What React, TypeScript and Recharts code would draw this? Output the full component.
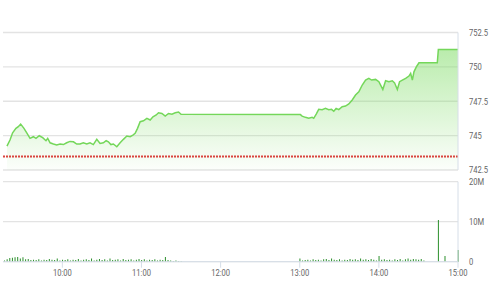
import React from "react";
import {
  ComposedChart,
  Area,
  Line,
  Bar,
  XAxis,
  YAxis,
  CartesianGrid,
  ReferenceLine,
} from "recharts";

// minutes since 09:00
const priceTimes = [
  18, 20.3, 22.3, 24.8, 26.6, 28.4, 30.9, 32.9, 35.5, 38, 40, 42.5, 45.1, 47.6, 48.9,
  50.7, 53.2, 55.7, 58.3, 60.8, 63.3, 65.8, 68.4, 70.9, 73.4, 75.9, 78.5, 81, 83.5,
  86.1, 88.6, 91.1, 93.2, 94.9, 96.8, 98.7, 101.3, 103.8, 106.3, 108.9, 111.4, 113.5,
  115.2, 117, 119, 121.5, 124.1, 126.6, 128.7, 131.2, 132.9, 135.5, 138, 140.5, 143.1,
  145.6, 148.1, 150, 240.5, 241.8, 244.3, 246.8, 249.4, 250.6, 252.5, 254.4, 257, 259.5,
  262, 264.1, 265.8, 267.6, 269.6, 272.2, 274.7, 277.2, 279.8, 282.3, 284.8, 287.4,
  289.9, 292.4, 294.5, 297.5, 300, 303, 305.1, 307.6, 310.2, 311.9, 314, 315.7, 317.8,
  320.3, 322.8, 324.1, 325.4, 326.6, 328.4, 330.4, 344.3, 345.1, 360,
];
const priceValues = [
  744.24, 744.68, 745.21, 745.53, 745.65, 745.84, 745.53, 745.21, 744.8, 744.92, 744.8,
  744.99, 744.85, 744.63, 744.8, 744.48, 744.39, 744.32, 744.39, 744.35, 744.48, 744.58,
  744.55, 744.39, 744.39, 744.48, 744.39, 744.48, 744.35, 744.73, 744.43, 744.48, 744.63,
  744.55, 744.35, 744.39, 744.19, 744.48, 744.73, 744.97, 744.92, 745.04, 745.17, 745.53,
  746.01, 746.08, 746.26, 746.14, 746.37, 746.5, 746.66, 746.61, 746.42, 746.61, 746.56,
  746.66, 746.72, 746.55, 746.53, 746.42, 746.33, 746.26, 746.33, 746.26, 746.57, 746.91,
  746.89, 746.98, 746.89, 746.91, 746.77, 746.98, 746.89, 747.1, 747.15, 747.3, 747.59,
  747.95, 748.19, 748.68, 749.04, 749.16, 749.04, 749.09, 748.92, 748.36, 748.99, 748.92,
  748.99, 748.84, 748.36, 748.92, 749.04, 749.16, 749.33, 749.53, 749.04, 749.64, 750.0,
  750.3, 750.3, 751.27, 751.27,
];
const referencePrice = 743.48;

const volumeTimes = [
  16, 18, 20, 22, 24, 26, 28, 30, 32, 34, 36, 38, 40, 42, 44, 46, 48, 50, 52, 54, 56, 58,
  60, 62, 64, 66, 68, 70, 72, 74, 76, 78, 80, 82, 84, 86, 88, 90, 92, 94, 96, 98, 100,
  102, 104, 106, 108, 110, 112, 114, 116, 118, 120, 122, 124, 126, 128, 130, 132, 134,
  136, 138, 140, 142, 144, 146, 148, 150,
  240, 242, 244, 246, 248, 250, 252, 254, 256, 258, 260, 262, 264, 266, 268, 270, 272,
  274, 276, 278, 280, 282, 284, 286, 288, 290, 292, 294, 296, 298, 300, 302, 304, 306,
  308, 310, 312, 314, 316, 318, 320, 322, 324, 326, 328, 330, 332, 334, 345, 350, 360,
];
// millions of shares
const volumeValues = [
  0.3, 0.6, 0.9, 1.0, 1.1, 1.2, 0.8, 1.1, 0.6, 0.7, 0.4, 0.5, 0.4, 0.6, 0.3, 0.5, 0.4,
  0.7, 0.5, 0.4, 0.8, 0.3, 0.5, 0.4, 0.6, 0.3, 0.5, 0.4, 0.7, 0.3, 0.5, 0.6, 0.4, 0.8,
  0.3, 0.5, 0.7, 0.4, 0.6, 0.3, 0.8, 0.4, 0.5, 0.6, 0.3, 0.7, 0.4, 0.5, 0.6, 0.3, 0.5,
  0.7, 0.4, 0.6, 0.3, 0.5, 0.4, 0.6, 0.3, 0.5, 0.4, 1.2, 0.4, 0.3, 0.2, 0.3, 0.2, 0.1,
  0.8, 0.3, 0.4, 0.5, 0.3, 0.6, 0.4, 0.5, 0.3, 0.6, 0.7, 0.4, 0.8, 0.5, 0.4, 0.6, 0.3,
  0.5, 0.4, 0.7, 0.5, 0.6, 0.4, 0.8, 0.5, 0.6, 0.4, 0.7, 0.5, 0.3, 1.4, 0.5, 0.6, 0.4,
  0.5, 0.3, 0.6, 0.4, 0.7, 0.3, 0.6, 0.8, 0.5, 0.7, 0.6, 0.5, 0.7, 0.3, 10.4, 1.4, 2.9,
];

const priceTicks = [742.5, 745, 747.5, 750, 752.5];
const volumeTicks = [0, 10, 20];
const timeTicks = [60, 120, 180, 240, 300, 360];

const priceData = priceTimes.map((t, i) => ({ t, price: priceValues[i] }));
const volumeData = volumeTimes.map((t, i) => ({ t, vol: volumeValues[i] }));

const fmtTime = (m: number) => `${Math.floor(9 + m / 60)}:${String(m % 60).padStart(2, "0")}`;
const fmtVol = (v: number) => (v === 0 ? "0" : `${v}M`);

const FONT = "Roboto, sans-serif";
const gridColor = "#e3e3e3";
const borderColor = "#d6dee8";

const makeRightTick = (fmt: (v: number) => string) => (props: any) => {
  const { x, y, payload } = props;
  return (
    <text
      transform={`translate(${x},${y}) scale(0.8,1)`}
      fill="#666"
      fontSize={9.5}
      fontFamily={FONT}
      textAnchor="start"
      dominantBaseline="central"
    >
      {fmt(payload.value)}
    </text>
  );
};

const BottomTick = (props: any) => {
  const { x, y, payload } = props;
  return (
    <text
      transform={`translate(${x},${y}) scale(0.8,1)`}
      fill="#666"
      fontSize={9.5}
      fontFamily={FONT}
      textAnchor="middle"
      dy="0.71em"
    >
      {fmtTime(payload.value)}
    </text>
  );
};

const PriceTick = makeRightTick((v) => String(v));
const VolTick = makeRightTick(fmtVol);

export default function App() {
  return (
    <div style={{ position: "absolute", left: 0, top: 0, width: 490, height: 306, background: "#fff" }}>
      <div style={{ position: "absolute", left: 0, top: 0 }}>
        <ComposedChart width={490} height={180} data={priceData} margin={{ top: 32.5, right: 0, bottom: 10, left: 3 }}>
          <defs>
            <linearGradient id="priceFill" x1="0" y1="0" x2="0" y2="1">
              <stop offset="0%" stopColor="#7fdc66" stopOpacity={0.9} />
              <stop offset="100%" stopColor="#7fdc66" stopOpacity={0.04} />
            </linearGradient>
          </defs>
          <CartesianGrid vertical={false} stroke={gridColor} strokeWidth={1.3} />
          <XAxis dataKey="t" type="number" domain={[15, 360]} hide />
          <YAxis
            orientation="right"
            width={32}
            domain={[742.5, 752.5]}
            ticks={priceTicks}
            tick={PriceTick}
            tickLine={false}
            tickSize={0}
            tickMargin={11}
            axisLine={{ stroke: borderColor }}
            interval={0}
          />
          <Area
            dataKey="price"
            type="linear"
            stroke="none"
            fill="url(#priceFill)"
            baseValue={742.5}
            isAnimationActive={false}
          />
          <Line dataKey="price" type="linear" stroke="#74d75a" strokeWidth={1.5} dot={false} isAnimationActive={false} />
          <ReferenceLine y={referencePrice} stroke="#d9453e" strokeWidth={2} strokeDasharray="2 1" />
        </ComposedChart>
      </div>
      <div style={{ position: "absolute", left: 0, top: 170 }}>
        <ComposedChart width={490} height={136} data={volumeData} margin={{ top: 11.7, right: 0, bottom: 14, left: 3 }}>
          <CartesianGrid vertical={false} stroke={gridColor} strokeWidth={1.3} />
          <XAxis
            dataKey="t"
            type="number"
            domain={[15, 360]}
            ticks={timeTicks}
            tick={BottomTick}
            tickLine={{ stroke: borderColor }}
            axisLine={{ stroke: borderColor }}
            tickSize={6}
            tickMargin={2}
            height={30.3}
            interval={0}
          />
          <YAxis
            orientation="right"
            width={32}
            domain={[0, 20]}
            ticks={volumeTicks}
            tick={VolTick}
            tickLine={false}
            tickSize={0}
            tickMargin={11}
            axisLine={{ stroke: borderColor }}
            interval={0}
          />
          <Bar dataKey="vol" fill="#2b8f2b" barSize={1} isAnimationActive={false} />
        </ComposedChart>
      </div>
    </div>
  );
}
